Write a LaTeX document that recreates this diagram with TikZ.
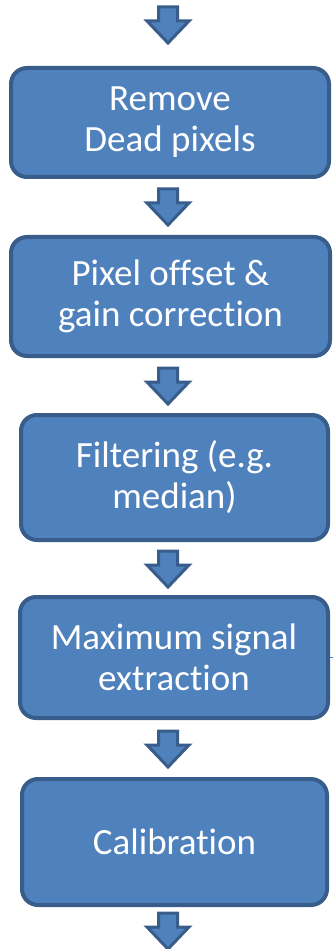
\documentclass[tikz,border=0pt]{standalone}
\usepackage{fontspec}
\setmainfont{Carlito}[Ligatures=NoCommon]
\definecolor{boxfill}{HTML}{4F81BD}
\definecolor{boxline}{HTML}{385D8A}
\begin{document}
\begin{tikzpicture}[x=1pt,y=-1pt,
  stage/.style={draw=boxline, fill=boxfill, line width=4pt, rounded corners=16pt,
    text=white, align=center, font=\fontsize{37}{41}\selectfont, inner sep=0pt},
  blockarrow/.pic={
    \path[draw=boxline, fill=boxfill, line width=3pt, line join=miter]
      (-9.5,0) -- (9.5,0) -- (9.5,14) -- (21,14) -- (0,36) -- (-21,14) -- (-9.5,14) -- cycle;
  }]
\useasboundingbox (0,0) rectangle (333,949);

\node[stage, minimum width=318pt, minimum height=109pt] (s1) at (170,122.5) {Remove\\Dead pixels};
\node[stage, minimum width=319pt, minimum height=119pt] (s2) at (170.5,296.5) {Pixel offset \&\\gain correction};
\node[stage, minimum width=307pt, minimum height=125pt] (s3) at (174.5,477.5) {Filtering (e.g.\\median)};
\node[stage, minimum width=308pt, minimum height=121pt] (s4) at (174,657.5) {Maximum signal\\extraction};
\node[stage, minimum width=305pt, minimum height=126pt] (s5) at (174.5,842) {Calibration};

% block arrows between the stages
\pic at (168,7) {blockarrow};
\pic at (168,189) {blockarrow};
\pic at (168,368) {blockarrow};
\pic at (168,551) {blockarrow};
\pic at (168,731) {blockarrow};
\pic at (168,913) {blockarrow};

% short stub leaving the extraction stage
\coordinate (stub) at (333,657.5);
\draw[boxfill, line width=1.5pt] (s4.east) -- (stub);
\end{tikzpicture}
\end{document}
